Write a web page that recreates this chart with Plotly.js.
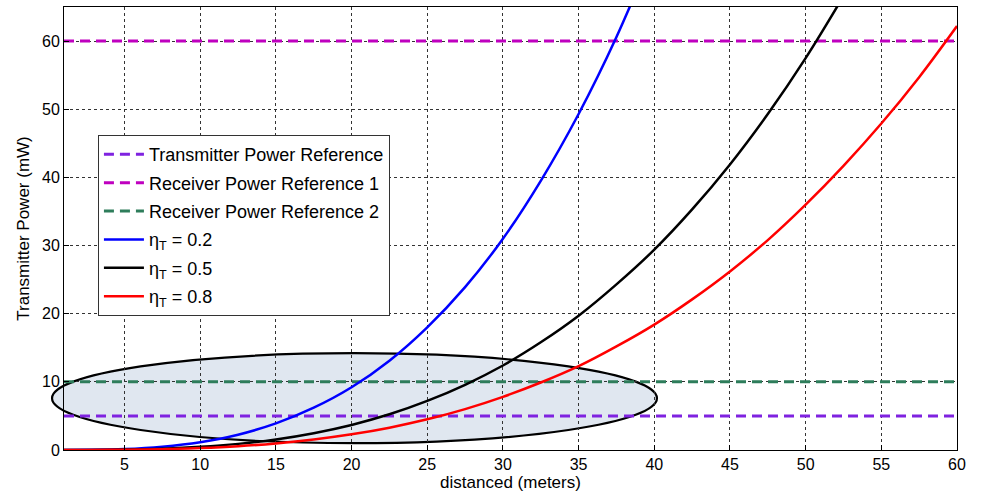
<!DOCTYPE html>
<html>
<head>
<meta charset="utf-8">
<script src="https://cdn.plot.ly/plotly-3.0.1.min.js"></script>
<style>html,body{margin:0;padding:0;background:#fff;}#chart{width:981px;height:493px;}</style>
</head>
<body>
<div id="chart"></div>
<script>
// distance d (meters)
const distance = [1, 2.5, 5, 7.5, 10, 12.5, 15, 17.5, 20, 22.5, 25, 27.5, 30, 32.5, 35, 37.5, 40, 42.5, 45, 47.5, 50, 52.5, 55, 57.5, 60];
// transmitter power (mW)
const powerEta02 = [0.001, 0.02, 0.14, 0.49, 1.15, 2.25, 3.9, 6.2, 9.2, 13.1, 18.0, 23.9, 31.0, 39.5, 49.3, 60.6, 73.6];
const powerEta05 = [0.0005, 0.007, 0.06, 0.19, 0.46, 0.9, 1.55, 2.47, 3.68, 5.24, 7.2, 9.57, 12.4, 15.8, 19.7, 24.3, 29.4, 35.3, 41.9, 49.3, 57.5, 66.6];
const powerEta08 = [0.0003, 0.005, 0.036, 0.12, 0.29, 0.56, 0.97, 1.54, 2.3, 3.28, 4.5, 6.0, 7.8, 9.9, 12.3, 15.2, 18.4, 22.1, 26.2, 30.8, 36.0, 41.7, 47.9, 54.7, 62.2];
// reference levels (mW)
const refX = [1, 60];
const transmitterRef = 5;
const receiverRef1 = 60;
const receiverRef2 = 10;
const xTicks = [5, 10, 15, 20, 25, 30, 35, 40, 45, 50, 55, 60];
const yTicks = [0, 10, 20, 30, 40, 50, 60];
// highlighted region (ellipse): y in mW
const ellipseY = [1.0, 14.2];

const FONT = 'Liberation Sans, Arial, sans-serif';
const dashStyle = '10px,6px';
const traces = [
  {x: refX, y: [transmitterRef, transmitterRef], name: 'Transmitter Power Reference', mode: 'lines', legendgroup: 'a',
   line: {color: '#7f22e0', width: 3, dash: dashStyle}},
  {x: refX, y: [receiverRef1, receiverRef1], name: 'Receiver Power Reference 1', mode: 'lines', legendgroup: 'b',
   line: {color: '#bf00bf', width: 3, dash: dashStyle}},
  {x: refX, y: [receiverRef2, receiverRef2], name: 'Receiver Power Reference 2', mode: 'lines', legendgroup: 'c',
   line: {color: '#2e7d5b', width: 3, dash: dashStyle}},
  {x: distance.slice(0, powerEta02.length), y: powerEta02, name: '\u03b7<sub>T</sub> = 0.2', mode: 'lines', legendgroup: 'd',
   line: {color: '#0000ff', width: 2.5, shape: 'spline'}},
  {x: distance.slice(0, powerEta05.length), y: powerEta05, name: '\u03b7<sub>T</sub> = 0.5', mode: 'lines', legendgroup: 'e',
   line: {color: '#000000', width: 2.5, shape: 'spline'}},
  {x: distance.slice(0, powerEta08.length), y: powerEta08, name: '\u03b7<sub>T</sub> = 0.8', mode: 'lines', legendgroup: 'f',
   line: {color: '#ff0000', width: 2.5, shape: 'spline'}}
];

const tickFont = {family: FONT, size: 16, color: '#000'};
const layout = {
  width: 981, height: 493,
  margin: {l: 64, r: 24, t: 7, b: 43},
  paper_bgcolor: '#fff', plot_bgcolor: '#fff',
  font: tickFont,
  showlegend: true,
  legend: {
    x: 0.038, y: 0.711, xanchor: 'left', yanchor: 'top',
    bgcolor: '#fff', bordercolor: '#333', borderwidth: 1,
    font: {family: FONT, size: 18, color: '#000'},
    tracegroupgap: 2, itemwidth: 40, traceorder: 'grouped'
  },
  xaxis: {
    range: [1, 60], tickvals: xTicks, ticktext: xTicks.map(String),
    showgrid: true, gridcolor: '#333', griddash: '3px,3px', gridwidth: 1,
    showline: true, linecolor: '#000', linewidth: 1, mirror: true,
    ticks: 'inside', ticklen: 5, tickcolor: '#000',
    zeroline: false, tickfont: tickFont,
    title: {text: 'distanced (meters)', font: {family: FONT, size: 17, color: '#000'}, standoff: 1}
  },
  yaxis: {
    range: [0, 65], tickvals: yTicks, ticktext: yTicks.map(String),
    showgrid: true, gridcolor: '#333', griddash: '3px,3px', gridwidth: 1,
    showline: true, linecolor: '#000', linewidth: 1, mirror: true,
    ticks: 'inside', ticklen: 5, tickcolor: '#000',
    zeroline: false, tickfont: tickFont,
    title: {text: 'Transmitter Power (mW)', font: {family: FONT, size: 17, color: '#000'}, standoff: 8}
  },
  shapes: [{
    type: 'circle', layer: 'below',
    xref: 'paper', yref: 'y',
    x0: -0.0134, x1: 0.664, y0: ellipseY[0], y1: ellipseY[1],
    fillcolor: '#e0e7f0', line: {color: '#000', width: 2.2}
  }]
};

Plotly.newPlot('chart', traces, layout, {displayModeBar: false, staticPlot: true});
</script>
</body>
</html>
